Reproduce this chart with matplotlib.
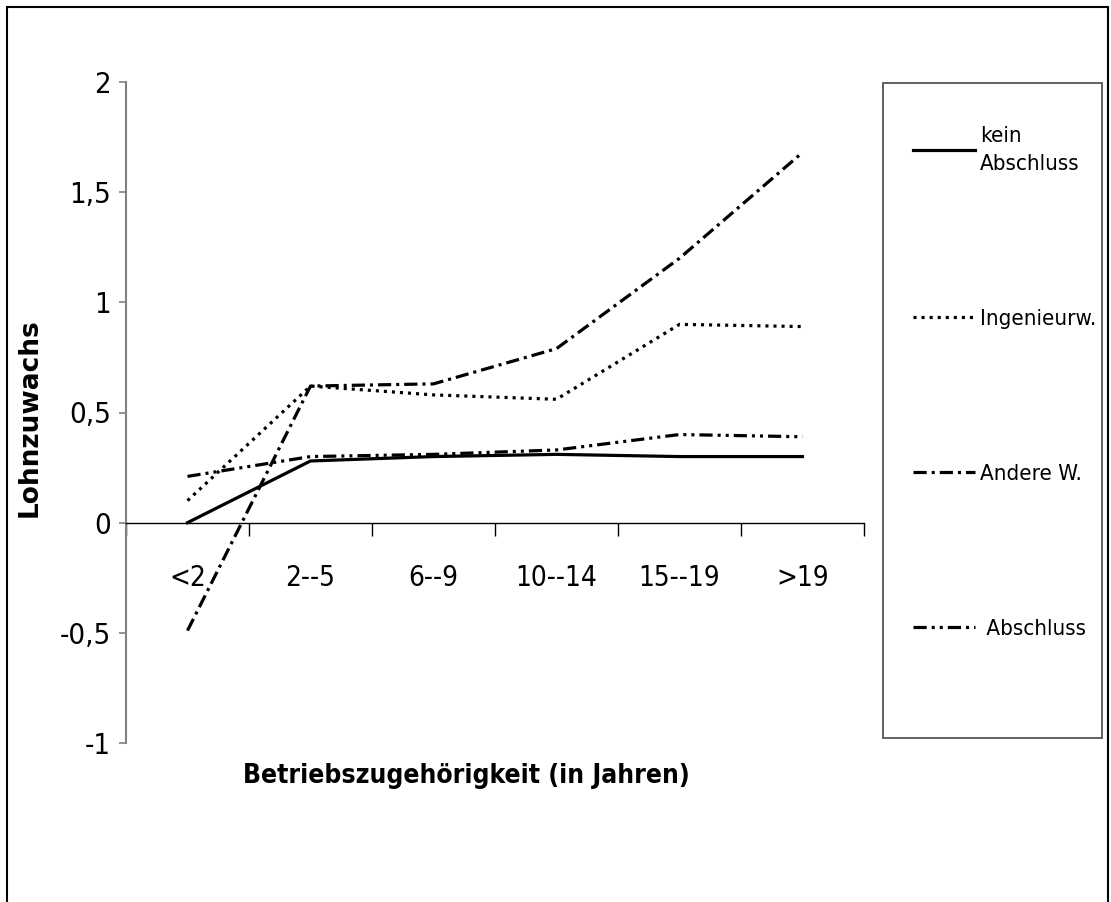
import numpy as np
import matplotlib
matplotlib.use("Agg")
import matplotlib.pyplot as plt
from matplotlib.patches import Rectangle
from matplotlib import font_manager

# Daten
kategorien = ["<2", "2--5", "6--9", "10--14", "15--19", ">19"]
kein_abschluss = [0.00, 0.28, 0.30, 0.31, 0.30, 0.30]
ingenieur = [0.10, 0.62, 0.58, 0.56, 0.90, 0.89]
andere = [-0.49, 0.62, 0.63, 0.79, 1.20, 1.68]
abschluss = [0.21, 0.30, 0.31, 0.33, 0.40, 0.39]

y_ticks = [-1, -0.5, 0, 0.5, 1, 1.5, 2]
y_ticklabels = ["-1", "-0,5", "0", "0,5", "1", "1,5", "2"]


# schmale Schrift suchen (wie Arial Narrow im Original)
def schmale_schrift():
    for fam in ["Liberation Sans Narrow", "DejaVu Sans", "Roboto", "Open Sans", "Noto Sans"]:
        try:
            fp = font_manager.FontProperties(family=fam, stretch="condensed")
            pfad = font_manager.findfont(fp, fallback_to_default=False)
        except Exception:
            continue
        if "narrow" in pfad.lower() or "condensed" in pfad.lower():
            return fam
    return None


schmal = schmale_schrift()
if schmal:
    plt.rcParams["font.family"] = [schmal, "Liberation Sans", "DejaVu Sans"]
    plt.rcParams["font.stretch"] = "condensed"
    tick_size, leg_size, xlab_size = 20, 16, 19
else:
    plt.rcParams["font.family"] = ["Liberation Sans", "DejaVu Sans"]
    tick_size, leg_size, xlab_size = 19, 15, 18
plt.rcParams["lines.scale_dashes"] = False

fig = plt.figure(figsize=(11.11, 9.02), dpi=100)
ax = fig.add_axes([126 / 1111, 1 - 743 / 902, (864 - 126) / 1111, (743 - 82) / 902])

x = np.arange(len(kategorien)) + 0.5
lw = 2.3
ax.plot(x, kein_abschluss, color="black", lw=lw, ls="-", label="kein\nAbschluss")
ax.plot(x, ingenieur, color="black", lw=lw, ls=(0, (2.2, 3.6)), dash_capstyle="butt",
        label="Ingenieurw.")
ax.plot(x, andere, color="black", lw=lw, ls=(0, (9.5, 3.6, 2.2, 3.6)), dash_capstyle="butt",
        label="Andere W.")
ax.plot(x, abschluss, color="black", lw=lw, ls=(0, (9.5, 3.6, 2.2, 3.6, 2.2, 3.6)),
        dash_capstyle="butt", label=" Abschluss")

ax.set_xlim(0, len(kategorien))
ax.set_ylim(-1, 2)

# Achsen im Excel-Stil
ax.spines["top"].set_visible(False)
ax.spines["right"].set_visible(False)
ax.spines["bottom"].set_position(("data", 0))
ax.spines["bottom"].set_color("black")
ax.spines["bottom"].set_linewidth(1.0)
ax.spines["left"].set_color("#808080")
ax.spines["left"].set_linewidth(1.5)

ax.set_xticks(np.arange(len(kategorien) + 1))
ax.set_xticklabels([])
ax.set_xticks(x, minor=True)
ax.set_xticklabels(kategorien, minor=True)
ax.tick_params(axis="x", which="major", direction="out", length=9.5, width=1.0, color="black")
ax.tick_params(axis="x", which="minor", length=0, pad=30, labelsize=tick_size)

ax.set_yticks(y_ticks)
ax.set_yticklabels(y_ticklabels)
ax.tick_params(axis="y", direction="out", length=5, width=1.2, color="#808080",
               pad=6, labelsize=tick_size + 1)

fig.text(30 / 1111, 1 - 418 / 902, "Lohnzuwachs", rotation=90, ha="center", va="center",
         fontsize=19, fontweight="bold", family=["DejaVu Sans"], fontstretch="normal")
fig.text(466 / 1111, 1 - 776 / 902, "Betriebszugehörigkeit (in Jahren)", ha="center",
         va="center", fontsize=xlab_size, fontweight="bold")

# Legende mit eigenem Rahmen
fig.patches.append(Rectangle((883 / 1111, 1 - 738 / 902), (1102 - 883) / 1111, (738 - 83) / 902,
                             transform=fig.transFigure, fill=False, edgecolor="#555555", lw=1.3))
em = leg_size * 100 / 72
leg = ax.legend(loc="upper left", bbox_to_anchor=(902 / 1111, 1 - 115 / 902),
                bbox_transform=fig.transFigure, frameon=False, fontsize=leg_size,
                handlelength=62 / em, handletextpad=5 / em,
                labelspacing=135 / em, borderpad=0)
leg.get_texts()[0].set_linespacing(1.5)

# Rahmen um die ganze Grafik
fig.patches.append(Rectangle((7 / 1111, -0.01), (1108 - 7) / 1111, 1 - 7 / 902 + 0.01,
                             transform=fig.transFigure, fill=False, edgecolor="black", lw=1.5))

fig.savefig("out.png", dpi=100)
